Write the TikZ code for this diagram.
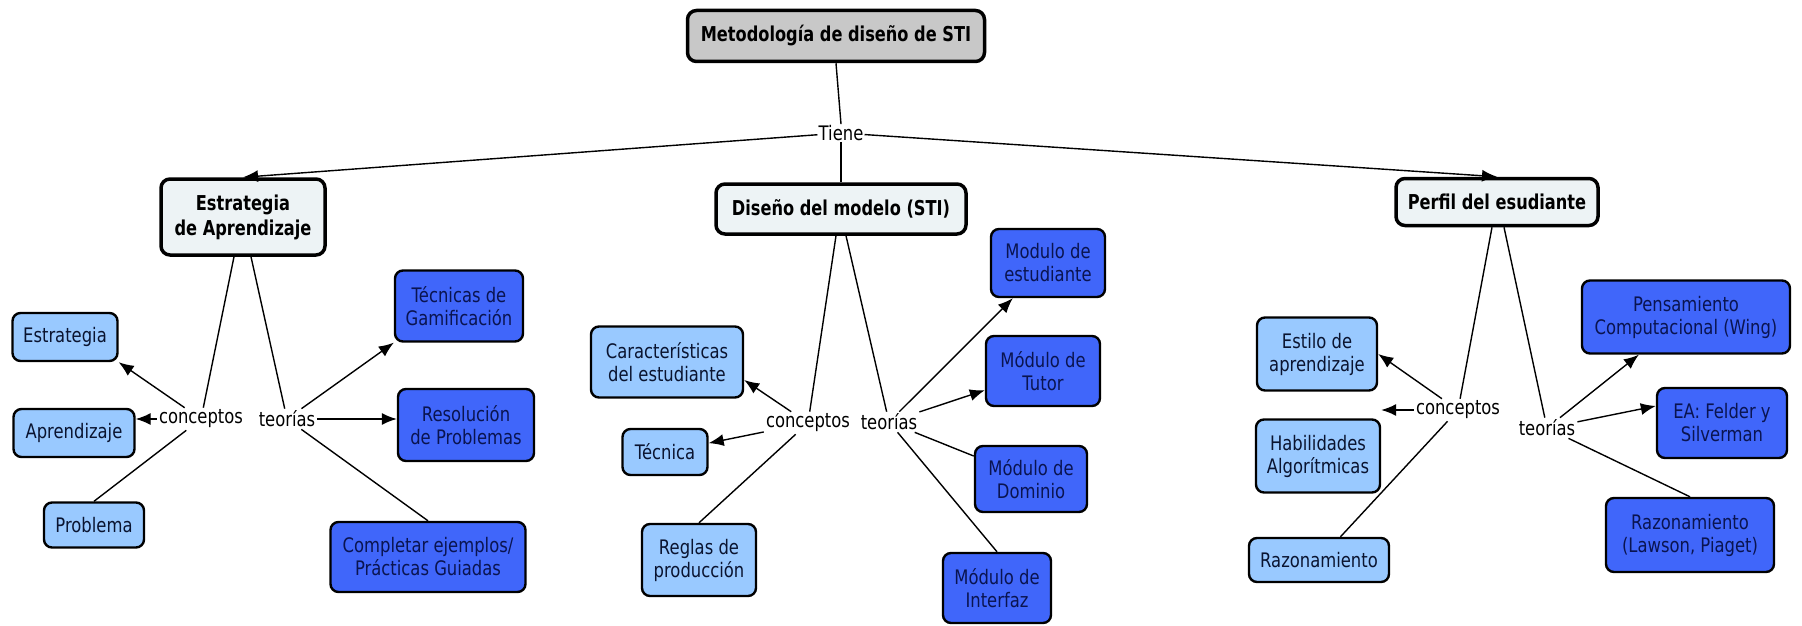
\documentclass[tikz,border=0pt]{standalone}
\usepackage{fontspec}
\setmainfont[FakeStretch=0.82,BoldFeatures={FakeStretch=0.79}]{DejaVu Sans}
\usetikzlibrary{arrows.meta}
\definecolor{mainfill}{HTML}{EDF3F5}
\definecolor{titlefill}{HTML}{C8C8C8}
\definecolor{liteblue}{HTML}{99C9FF}
\definecolor{darkblue}{HTML}{4066FA}
\definecolor{litetext}{HTML}{0A1430}
\definecolor{darktext}{HTML}{0A1450}
\tikzset{
  mainbox/.style={draw,line width=3.5pt,rounded corners=9pt,fill=mainfill,align=center,
    font=\bfseries\fontsize{20.5}{25}\selectfont},
  lite/.style={draw,line width=2.4pt,rounded corners=8pt,fill=liteblue,text=litetext,align=center,
    font=\fontsize{20}{23}\selectfont},
  dark/.style={lite,fill=darkblue,text=darktext},
  link/.style={font=\fontsize{20}{23}\selectfont,inner sep=2pt},
  ln/.style={line width=1.4pt},
  arr/.style={ln,-{Latex[length=15pt,width=12pt]}}
}
\begin{document}
\begin{tikzpicture}[x=1pt,y=-1pt]
    \useasboundingbox (0,0) rectangle (1802,626);

    \node [mainbox,fill=titlefill,minimum width=297,minimum height=51] (title) at (836,36) {Metodología de diseño de STI};
    \node [link,inner sep=1pt] (tiene) at (841,133) {Tiene};
    \node [mainbox,minimum width=250,minimum height=50] (disen) at (841,209) {Diseño del modelo (STI)};
    \node [mainbox,minimum width=164,minimum height=76] (estr) at (243,217) {Estrategia\\de Aprendizaje};
    \node [mainbox,minimum width=202,minimum height=47] (perf) at (1497,202) {Perfil del esudiante};

    % left branch
    \node [link] (c1) at (201,419) {conceptos};
    \node [link] (t1) at (287,419) {teorías};
    \node [lite,minimum width=105,minimum height=48] (estrat) at (65,337) {Estrategia};
    \node [lite,minimum width=121,minimum height=48] (aprend) at (74,433) {Aprendizaje};
    \node [lite,minimum width=100,minimum height=45] (probl) at (94,525) {Problema};
    \node [dark,minimum width=128,minimum height=71] (gamif) at (459,306) {Técnicas de\\Gamificación};
    \node [dark,minimum width=136,minimum height=72] (resol) at (466,425) {Resolución\\de Problemas};
    \node [dark,minimum width=195,minimum height=70] (complet) at (428,557) {Completar ejemplos/\\Prácticas Guiadas};

    % middle branch
    \node [link] (c2) at (808,423) {conceptos};
    \node [link] (t2) at (889,422) {teorías};
    \node [lite,minimum width=152,minimum height=71] (caract) at (667,362) {Características\\del estudiante};
    \node [lite,minimum width=85,minimum height=46] (tecnica) at (665,452) {Técnica};
    \node [lite,minimum width=114,minimum height=72] (reglas) at (699,560) {Reglas de\\producción};
    \node [dark,minimum width=114,minimum height=68] (mest) at (1048,263) {Modulo de\\estudiante};
    \node [dark,minimum width=114,minimum height=70] (mtutor) at (1043,371) {Módulo de\\Tutor};
    \node [dark,minimum width=112,minimum height=66] (mdom) at (1031,479) {Módulo de\\Dominio};
    \node [dark,minimum width=108,minimum height=70] (minter) at (997,588) {Módulo de\\Interfaz};

    % right branch
    \node [link] (c3) at (1458,410) {conceptos};
    \node [link] (t3) at (1547,428) {teorías};
    \node [lite,minimum width=120,minimum height=73] (estilo) at (1317,354) {Estilo de\\aprendizaje};
    \node [lite,minimum width=124,minimum height=73] (habil) at (1318,456) {Habilidades\\Algorítmicas};
    \node [lite,minimum width=140,minimum height=44] (razon) at (1319,560) {Razonamiento};
    \node [dark,minimum width=208,minimum height=73] (pens) at (1686,317) {Pensamiento\\Computacional (Wing)};
    \node [dark,minimum width=130,minimum height=70] (felder) at (1722,423) {EA: Felder y\\Silverman};
    \node [dark,minimum width=168,minimum height=74] (lawson) at (1690,535) {Razonamiento\\(Lawson, Piaget)};

    % top links
    \draw [ln] (title.south) -- (tiene.north);
    \draw [ln] (tiene.south) -- (disen.north);
    \draw [arr] (tiene) -- (estr.north);
    \draw [arr] (tiene) -- (perf.north);

    \draw [ln] ([xshift=-9]estr.south) -- (c1);
    \draw [ln] ([xshift=8]estr.south) -- (t1);
    \draw [ln] ([xshift=-5]disen.south) -- (c2);
    \draw [ln] ([xshift=5]disen.south) -- (t2);
    \draw [ln] ([xshift=-5]perf.south) -- (c3);
    \draw [ln] ([xshift=7]perf.south) -- (t3);

    \draw [arr] (c1) -- (estrat.south east);
    \draw [arr] (c1.west) -- (c1.west -| aprend.east);
    \draw [ln] (c1) -- (probl.north);
    \draw [arr] (t1) -- (gamif.south west);
    \draw [arr] (t1.east) -- (t1.east -| resol.west);
    \draw [ln] (t1) -- (complet.north);

    \draw [arr] (c2) -- ([yshift=-18]caract.east);
    \draw [arr] (c2) -- (tecnica);
    \draw [ln] (c2) -- (reglas.north);
    \draw [arr] (t2) -- (mest);
    \draw [arr] (t2) -- (mtutor);
    \draw [ln] (t2) -- (mdom);
    \draw [ln] (t2) -- (minter.north);

    \draw [arr] (c3) -- (estilo.east);
    \draw [arr] (c3.west) -- (c3.west -| habil.east);
    \draw [ln] (c3) -- (razon);
    \draw [arr] (t3) -- (pens);
    \draw [arr] (t3) -- ([yshift=17]felder.west);
    \draw [ln] (t3) -- (lawson.north);
\end{tikzpicture}
\end{document}
